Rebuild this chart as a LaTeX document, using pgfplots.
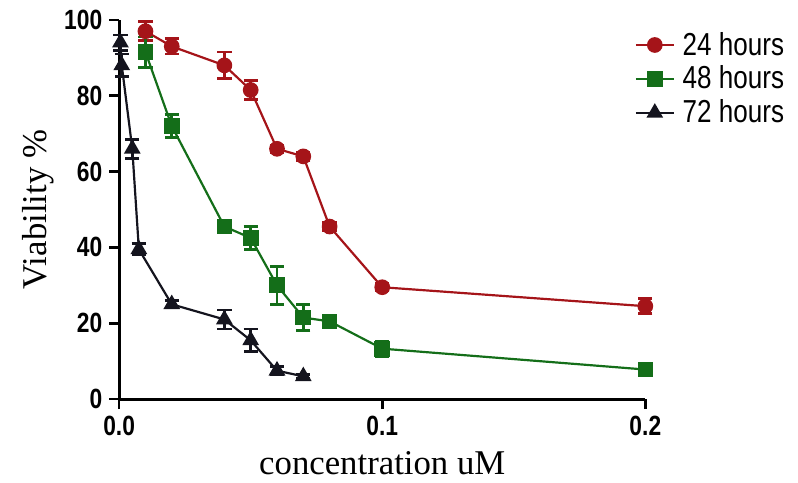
\documentclass[border=0pt]{standalone}
\usepackage{pgfplots}
\pgfplotsset{compat=1.18}
\usepackage{pgfplotstable}
\usepackage{fontspec}
\setmainfont{Liberation Sans}
\newfontfamily\seriffont{Liberation Serif}
\newfontfamily\condfont{Liberation Sans}[FakeStretch=0.82]
\definecolor{cred}{RGB}{165,20,25}
\definecolor{cgreen}{RGB}{20,110,25}
\definecolor{cblack}{RGB}{20,20,30}
\pgfplotstableread{
x y e
0.01 97 2.5
0.02 93 2
0.04 88 3.5
0.05 81.5 2.5
0.06 66 1
0.07 64 1
0.08 45.5 1
0.1 29.5 1
0.2 24.5 2
}\tabA
\pgfplotstableread{
x y e
0.01 91.5 4
0.02 72 3
0.04 45.5 1.5
0.05 42.5 3
0.06 30 5
0.07 21.5 3.5
0.08 20.5 1
0.1 13.3 2
0.2 7.8 1
}\tabB
\pgfplotstableread{
x y e
0.0005 94 2
0.001 88 3
0.005 66 2.5
0.0075 39.5 1.5
0.02 25 1
0.04 21 2.5
0.05 15.5 3
0.06 7.5 1
0.07 6 0.5
}\tabC
\begin{document}
\begin{tikzpicture}
\begin{axis}[
  at={(0,0)}, anchor=south west,
  scale only axis, width=265pt, height=191pt,
  xmin=0, xmax=0.2, ymin=0, ymax=100,
  clip=false,
  axis lines=left,
  axis line style={-, line width=1.5pt},
  tick align=outside,
  major tick length=5pt,
  tick style={line width=1.3pt, black},
  xtick={0,0.1,0.2}, xticklabels={0.0,0.1,0.2},
  ytick={0,20,40,60,80,100}, yticklabels={0,20,40,60,80,100},
  ticklabel style={font=\condfont\bfseries\fontsize{14}{14}\selectfont},
  xlabel={\seriffont concentration uM},
  ylabel={\seriffont Viability \%},
  label style={font=\fontsize{17.5}{18}\selectfont},
  xlabel style={yshift=-1pt},
  ylabel style={yshift=-2pt},
  legend style={at={(0.968,0.99)}, anchor=north west, draw=none, fill=none,
    font=\condfont\fontsize{16}{16}\selectfont, row sep=0pt,
    legend cell align=left, nodes={inner xsep=4pt}},
  legend image code/.code={\draw[#1] (0pt,0pt) -- (19pt,0pt); \draw[#1, only marks] plot coordinates {(9.5pt,0pt)};},
  error bars/error bar style={line width=1.4pt},
  error bars/error mark options={rotate=90, mark size=3.6pt, line width=1.4pt},
]
\addplot[cred, line width=1.1pt, mark=*, mark size=3.4pt, mark options={solid, fill=cred},
  error bars/.cd, y dir=both, y explicit] table[x=x, y=y, y error=e] {\tabA};
\addlegendentry{24 hours}
\addplot[cgreen, line width=1.1pt, mark=square*, mark size=3.4pt, mark options={solid, fill=cgreen},
  error bars/.cd, y dir=both, y explicit] table[x=x, y=y, y error=e] {\tabB};
\addlegendentry{48 hours}
\addplot[cblack, line width=1.1pt, mark=triangle*, mark size=3.8pt, mark options={solid, fill=cblack},
  error bars/.cd, y dir=both, y explicit] table[x=x, y=y, y error=e] {\tabC};
\addlegendentry{72 hours}
\end{axis}
\path (-60pt,-42pt) rectangle (339pt,201pt);
\end{tikzpicture}
\end{document}
